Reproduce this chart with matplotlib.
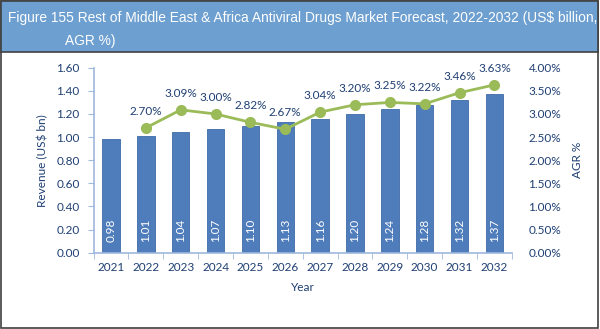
import numpy as np
import matplotlib.pyplot as plt
from matplotlib.patches import Rectangle
from matplotlib.ticker import FixedLocator

years = ['2021', '2022', '2023', '2024', '2025', '2026',
         '2027', '2028', '2029', '2030', '2031', '2032']
revenue = [0.98, 1.01, 1.04, 1.07, 1.10, 1.13, 1.16, 1.20, 1.24, 1.28, 1.32, 1.37]
agr = [None, 2.70, 3.09, 3.00, 2.82, 2.67, 3.04, 3.20, 3.25, 3.22, 3.46, 3.63]

title = "Figure 155 Rest of Middle East & Africa Antiviral Drugs Market Forecast, 2022-2032 (US$ billion,"
title2 = "AGR %)"

BAR = '#4f7cba'
LINE = '#9bbb59'
TXT = '#1f3f73'
AXIS = '#9db8dc'

plt.rcParams['font.family'] = ['Lato', 'DejaVu Sans']

fig = plt.figure(figsize=(6, 3.29), dpi=100)

# outer frame and title band
fig.patches.append(Rectangle((0.002, 0.004), 0.994, 0.992, transform=fig.transFigure,
                             fill=False, edgecolor='#404040', linewidth=1.2, zorder=0))
fig.patches.append(Rectangle((0.002, 0.842), 0.994, 0.154, transform=fig.transFigure,
                             facecolor='#6d9fd0', edgecolor='#404040', linewidth=1.2, zorder=1))
title_font = ['Liberation Sans', 'DejaVu Sans']
fig.text(0.013, 0.945, title, color='white', fontsize=9.9, family=title_font,
         va='center', ha='left')
fig.text(0.108, 0.876, title2, color='white', fontsize=9.9, family=title_font,
         va='center', ha='left')

ax = fig.add_axes([0.156, 0.232, 0.697, 0.562])
x = np.arange(len(years))
bars = ax.bar(x, revenue, width=0.5, color=BAR, edgecolor='#3f6aa8', linewidth=0.6, zorder=2)
for xi, v in zip(x, revenue):
    ax.text(xi, 0.19, f"{v:.2f}", rotation=90, color='white', fontsize=8.5,
            ha='center', va='center', zorder=3)

ax.set_xlim(-0.5, len(years) - 0.5)
ax.set_ylim(0, 1.6)
ax.set_yticks(np.arange(0, 1.61, 0.2))
ax.set_yticklabels([f"{v:.2f}" for v in np.arange(0, 1.61, 0.2)])
ax.set_xticks(x)
ax.set_xticklabels(years)
ax.xaxis.set_minor_locator(FixedLocator(np.arange(-0.5, len(years), 1)))
ax.tick_params(axis='x', which='major', length=0, colors=TXT, labelsize=8.5, pad=7)
ax.tick_params(axis='x', which='minor', length=4, color=AXIS, direction='out')
ax.tick_params(axis='y', length=4, color=AXIS, colors=TXT, labelsize=8.5, pad=6)
for t in ax.get_yticklabels():
    t.set_color(TXT)
for s in ['top', 'right']:
    ax.spines[s].set_visible(False)
ax.spines['left'].set_color(AXIS)
ax.spines['bottom'].set_color(AXIS)
ax.spines['left'].set_linewidth(1.2)
ax.spines['bottom'].set_linewidth(1.2)
ax.set_ylabel('Revenue (US$ bn)', color=TXT, fontsize=8.5, labelpad=6)
ax.set_xlabel('Year', color=TXT, fontsize=8.5, labelpad=6)

ax2 = ax.twinx()
agr_x = [xi for xi, a in zip(x, agr) if a is not None]
agr_y = [a for a in agr if a is not None]
ax2.plot(agr_x, agr_y, color=LINE, linewidth=2, marker='o', markersize=7, zorder=4)
for xi, a in zip(agr_x, agr_y):
    ax2.annotate(f"{a:.2f}%", (xi, a), xytext=(0, 8), textcoords='offset points',
                 ha='center', va='bottom', color=TXT, fontsize=8.5)
ax2.set_ylim(0, 4)
ax2.set_yticks(np.arange(0, 4.01, 0.5))
ax2.set_yticklabels([f"{v:.2f}%" for v in np.arange(0, 4.01, 0.5)])
ax2.tick_params(axis='y', length=0, colors=TXT, labelsize=8.5, pad=12)
for s in ['top', 'right', 'left', 'bottom']:
    ax2.spines[s].set_visible(False)
ax2.set_ylabel('AGR %', color=TXT, fontsize=8.5, labelpad=8)

fig.savefig('out.png', dpi=100)
